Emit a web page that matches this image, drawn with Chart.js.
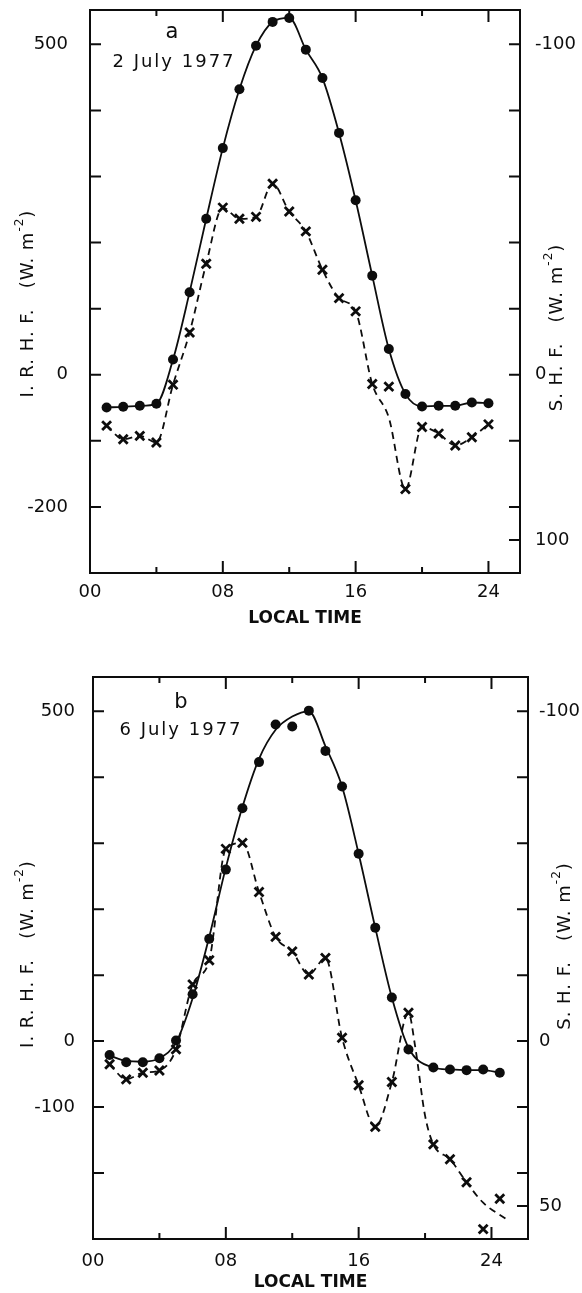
<!DOCTYPE html>
<html>
<head>
<meta charset="utf-8">
<script src="https://cdn.jsdelivr.net/npm/chart.js@4.4.0/dist/chart.umd.min.js"></script>
<style>
  body { margin: 0; background: #fff; }
  #wrap { position: relative; width: 582px; height: 1293px; }
  canvas { position: absolute; left: 0; }
  #chartA { top: 0; }
  #chartB { top: 660px; }
</style>
</head>
<body>
<div id="wrap">
  <canvas id="chartA" width="582" height="660"></canvas>
  <canvas id="chartB" width="582" height="633"></canvas>
</div>
<script>
// ---- panel a : 2 July 1977 ----
const hoursA = [1, 2, 3, 4, 5, 6, 7, 8, 9, 10, 11, 12, 13, 14, 15, 16, 17, 18, 19, 20, 21, 22, 23, 24];
const irhfA = [-49.5, -48.5, -47, -44, 23, 125, 236, 343, 432, 498, 534, 540, 492, 449, 366, 264, 150, 39, -29, -48, -47, -47, -42, -43];
const shfA = [15.4, 19.5, 18.5, 20.5, 3.0, -12.8, -33.6, -50.6, -47.2, -47.8, -57.8, -49.4, -43.4, -31.8, -23.2, -19.2, 2.8, 3.6, 34.6, 15.8, 17.8, 21.4, 18.9, 15.0];
// fitted curves (as drawn)
const irhfCurveA = irhfA;
const shfCurveA = [15.4, 19.5, 18.5, 20.5, 3.0, -12.8, -33.6, -50.6, -47.2, -47.8, -57.8, -49.4, -43.4, -31.8, -23.2, -19.2, 2.8, 13, 34.6, 15.8, 17.8, 21.4, 18.9, 15.0];

// ---- panel b : 6 July 1977 ----
const hoursB = [1, 2, 3, 4, 5, 6, 7, 8, 9, 10, 11, 12, 13, 14, 15, 16, 17, 18, 19, 20.5, 21.5, 22.5, 23.5, 24.5];
const irhfB = [-21, -32, -32, -26, 1, 71, 155, 260, 353, 423, 480, 477, 501, 440, 386, 284, 172, 66, -12.6, -40, -43, -44, -43, -48];
const shfB = [7.0, 11.6, 9.6, 8.9, 2.5, -17.2, -24.5, -58.3, -60.1, -45.2, -31.6, -27.2, -20.2, -25.2, -1.0, 13.4, 26, 12.4, -8.6, 31.3, 35.8, 42.8, 57, 47.8];
const irhfCurveB = [-22, -30, -31, -26, -2, 65, 158, 263, 355, 428, 472, 492, 500, 447, 386, 284, 172, 66, -10, -40, -43, -44, -44, -48];
const shfCurveHoursB = [1, 2, 3, 4, 5, 6, 7, 8, 9, 10, 11, 12, 13, 14, 15, 16, 17, 18, 19, 19.4, 20, 20.5, 21.5, 22.5, 23.5, 24.9];
const shfCurveB = [7.0, 11.6, 9.6, 8.9, 2.5, -17.2, -24.5, -58.3, -60.1, -45.2, -31.6, -27.2, -20.2, -25.2, -1.0, 13.4, 26, 12.4, -8.6, 1.5, 22.6, 31.3, 35.8, 42.8, 49, 54];

// ---- axes ----
const hourTicks = [0, 4, 8, 12, 16, 20, 24];
const hourLabelValues = [0, 8, 16, 24];
const hourLabels = ["00", "08", "16", "24"];
const irhfTickMarksA = [500, 400, 300, 200, 100, 0, -100, -200];
const irhfTickMarksB = [500, 400, 300, 200, 100, 0, -100, -200];
const irhfLabelValuesA = [500, 0, -200];
const irhfLabelsA = ["500", "0", "-200"];
const irhfLabelValuesB = [500, 0, -100];
const irhfLabelsB = ["500", "0", "-100"];
const shfTickMarks = [-100, -80, -60, -40, -20, 0, 20, 40, 50];
const shfLabelValues = [-100, 0, 50];
const shfLabelsA = ["-100", "0", "100"];
const shfLabelsB = ["-100", "0", "50"];

const INK = "#0d0d0d";
const FONT = "'DejaVu Sans', sans-serif";
Chart.defaults.font.family = FONT;
Chart.defaults.color = INK;

function pts(xs, ys) {
  return xs.map((x, i) => ({ x: x, y: ys[i] }));
}

function drawVertTitle(ctx, x, y, main) {
  ctx.save();
  ctx.translate(x, y);
  ctx.rotate(-Math.PI / 2);
  ctx.fillStyle = INK;
  ctx.textBaseline = "middle";
  ctx.textAlign = "left";
  ctx.letterSpacing = "1px";
  const big = "18px " + FONT, small = "12px " + FONT;
  const t1 = main + "   (W. m", t2 = "-2", t3 = ")";
  ctx.font = big; const w1 = ctx.measureText(t1).width; const w3 = ctx.measureText(t3).width;
  ctx.font = small; const w2 = ctx.measureText(t2).width;
  let cx = -(w1 + w2 + w3) / 2;
  ctx.font = big; ctx.fillText(t1, cx, 0); cx += w1;
  ctx.font = small; ctx.fillText(t2, cx, -8); cx += w2;
  ctx.font = big; ctx.fillText(t3, cx, 0);
  ctx.restore();
}

const framePlugin = {
  id: "frame",
  afterDatasetsDraw(chart, args, o) {
    const { ctx, chartArea: a, scales } = chart;
    ctx.save();
    ctx.strokeStyle = INK;
    ctx.lineWidth = 2;
    ctx.strokeRect(a.left, a.top, a.right - a.left, a.bottom - a.top);
    ctx.beginPath();
    o.leftMarks.forEach(v => {
      const y = scales.y.getPixelForValue(v);
      ctx.moveTo(a.left, y); ctx.lineTo(a.left + 11, y);
    });
    shfTickMarks.forEach(v => {
      const y = scales.y2.getPixelForValue(v);
      ctx.moveTo(a.right, y); ctx.lineTo(a.right - 11, y);
    });
    hourTicks.forEach(h => {
      if (h === 0) return;
      const x = scales.x.getPixelForValue(h);
      const len = h % 8 === 0 ? 12 : 6;
      ctx.moveTo(x, a.bottom); ctx.lineTo(x, a.bottom - len);
      ctx.moveTo(x, a.top); ctx.lineTo(x, a.top + len);
    });
    ctx.stroke();

    drawVertTitle(ctx, a.left + o.leftTitle[0], (a.top + a.bottom) / 2 + o.leftTitle[1], "I. R. H. F.");
    drawVertTitle(ctx, a.right + o.rightTitle[0], (a.top + a.bottom) / 2 + o.rightTitle[1], "S. H. F.");

    ctx.fillStyle = INK;
    ctx.textAlign = "center";
    ctx.textBaseline = "middle";
    ctx.font = "21px " + FONT;
    ctx.fillText(o.letter, a.left + o.letterPos[0], a.top + o.letterPos[1]);
    ctx.font = "18px " + FONT;
    ctx.letterSpacing = "2px";
    ctx.fillText(o.date, a.left + o.datePos[0], a.top + o.datePos[1]);
    ctx.restore();
  }
};

function noEdgePad(s) {
  s.paddingTop = 0; s.paddingBottom = 0; s.paddingLeft = 0; s.paddingRight = 0;
}

function makePanel(id, cfg) {
  new Chart(document.getElementById(id), {
    type: "line",
    data: {
      datasets: [
        {
          data: pts(cfg.curveHours, cfg.irhfCurve), yAxisID: "y",
          borderColor: INK, borderWidth: 1.8, pointRadius: 0,
          cubicInterpolationMode: "monotone", fill: false
        },
        {
          data: pts(cfg.shfCurveHours, cfg.shfCurve), yAxisID: "y2",
          borderColor: INK, borderWidth: 1.8, borderDash: [7, 5], pointRadius: 0,
          cubicInterpolationMode: "monotone", fill: false
        },
        {
          data: pts(cfg.hours, cfg.irhf), yAxisID: "y", showLine: false,
          pointStyle: "circle", pointRadius: 5, backgroundColor: INK, borderColor: INK, borderWidth: 0
        },
        {
          data: pts(cfg.hours, cfg.shf), yAxisID: "y2", showLine: false,
          pointStyle: "crossRot", pointRadius: 6.3, borderColor: INK, borderWidth: 2.8
        }
      ]
    },
    options: {
      responsive: false,
      animation: false,
      devicePixelRatio: 1,
      layout: { padding: { top: cfg.top, left: 0, right: 0, bottom: 0 } },
      plugins: {
        legend: { display: false },
        tooltip: { enabled: false },
        frame: cfg.frame
      },
      scales: {
        x: {
          type: "linear", min: 0, max: cfg.xMax,
          grid: { display: false }, border: { display: false },
          afterBuildTicks: s => { s.ticks = hourTicks.map(v => ({ value: v })); },
          afterFit: s => { s.height = cfg.xHeight; noEdgePad(s); },
          ticks: {
            autoSkip: false, maxRotation: 0, padding: cfg.xPad, color: INK,
            font: { size: 18 },
            callback: v => { const i = hourLabelValues.indexOf(v); return i >= 0 ? hourLabels[i] : ""; }
          },
          title: {
            display: true, text: "LOCAL TIME", color: INK,
            font: { size: 17, weight: "bold" },
            padding: { top: 0, bottom: cfg.titlePad }
          }
        },
        y: {
          type: "linear", position: "left", min: -300, max: 552,
          grid: { display: false }, border: { display: false },
          afterBuildTicks: s => { s.ticks = cfg.frame.leftMarks.map(v => ({ value: v })); },
          afterFit: s => { s.width = cfg.yWidth; noEdgePad(s); },
          ticks: {
            autoSkip: false, padding: cfg.yPad, color: INK, font: { size: 18 },
            callback: v => { const i = cfg.leftLabelValues.indexOf(v); return i >= 0 ? cfg.leftLabels[i] : ""; }
          }
        },
        y2: {
          type: "linear", position: "right", min: -110.4, max: 60, reverse: true,
          grid: { display: false }, border: { display: false },
          afterBuildTicks: s => { s.ticks = shfTickMarks.map(v => ({ value: v })); },
          afterFit: s => { s.width = cfg.y2Width; noEdgePad(s); },
          ticks: {
            autoSkip: false, padding: cfg.y2Pad, color: INK, font: { size: 18 },
            callback: v => { const i = shfLabelValues.indexOf(v); return i >= 0 ? cfg.rightLabels[i] : ""; }
          }
        }
      }
    },
    plugins: [framePlugin]
  });
}

makePanel("chartA", {
  hours: hoursA, irhf: irhfA, shf: shfA,
  curveHours: hoursA, irhfCurve: irhfCurveA,
  shfCurveHours: hoursA, shfCurve: shfCurveA,
  leftLabelValues: irhfLabelValuesA, leftLabels: irhfLabelsA, rightLabels: shfLabelsA,
  xMax: 25.9, top: 10, yWidth: 90, y2Width: 62, xHeight: 87, titlePad: 31, xPad: 1, yPad: 14, y2Pad: 7,
  frame: {
    leftMarks: irhfTickMarksA, letter: "a", date: "2 July 1977",
    letterPos: [82, 23], datePos: [84, 52],
    leftTitle: [-62, 12], rightTitle: [37, 36]
  }
});

makePanel("chartB", {
  hours: hoursB, irhf: irhfB, shf: shfB,
  curveHours: hoursB, irhfCurve: irhfCurveB,
  shfCurveHours: shfCurveHoursB, shfCurve: shfCurveB,
  leftLabelValues: irhfLabelValuesB, leftLabels: irhfLabelsB, rightLabels: shfLabelsB,
  xMax: 26.2, top: 17, yWidth: 93, y2Width: 54, xHeight: 54, titlePad: 0, xPad: 4, yPad: 10, y2Pad: 3,
  frame: {
    leftMarks: irhfTickMarksB, letter: "b", date: "6 July 1977",
    letterPos: [88, 26], datePos: [88, 53],
    leftTitle: [-65, -4], rightTitle: [37, -12]
  }
});
</script>
</body>
</html>
